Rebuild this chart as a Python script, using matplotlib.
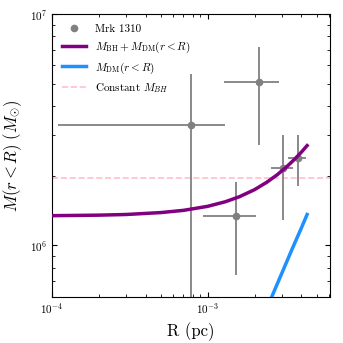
import numpy as np
import matplotlib
matplotlib.use("Agg")
import matplotlib.pyplot as plt
from matplotlib.lines import Line2D

plt.rcParams['font.family'] = ['cmr10', 'DejaVu Serif']
plt.rcParams['mathtext.fontset'] = 'cm'
plt.rcParams['axes.formatter.use_mathtext'] = True

# Mrk 1310 measurements
r_pc = [7.85e-4, 2.14e-3, 1.52e-3, 3.05e-3, 3.78e-3]
r_lo = [1.10e-4, 1.27e-3, 9.37e-4, 2.57e-3, 3.29e-3]
r_hi = [1.29e-3, 2.88e-3, 2.04e-3, 3.54e-3, 4.31e-3]
m_enc = [3.30e6, 5.09e6, 1.34e6, 2.15e6, 2.39e6]
m_lo = [3.0e5, 2.71e6, 7.47e5, 1.29e6, 1.80e6]
m_hi = [5.5e6, 7.18e6, 1.87e6, 2.99e6, 2.99e6]

# model curves
r_model = [1e-4, 2e-4, 3e-4, 5e-4, 7e-4, 1e-3, 1.3e-3, 1.6e-3, 2e-3,
           2.4e-3, 2.8e-3, 3.2e-3, 3.6e-3, 4.0e-3, 4.35e-3]
m_total = [1.344e6, 1.351e6, 1.360e6, 1.386e6, 1.417e6, 1.475e6, 1.544e6,
           1.623e6, 1.741e6, 1.875e6, 2.021e6, 2.180e6, 2.35e6, 2.53e6, 2.70e6]
r_dm = [2.5e-3, 3.0e-3, 3.5e-3, 4.0e-3, 4.35e-3]
m_dm = [5.7e5, 7.6e5, 9.7e5, 1.19e6, 1.36e6]
m_bh = 1.96e6

r_pc = np.array(r_pc)
m_enc = np.array(m_enc)
xerr = [r_pc - np.array(r_lo), np.array(r_hi) - r_pc]
yerr = [m_enc - np.array(m_lo), np.array(m_hi) - m_enc]

fig = plt.figure(figsize=(3.43, 3.43), dpi=100)
ax = fig.add_axes([0.151, 0.135, 0.811, 0.824])

ax.errorbar(r_pc, m_enc, xerr=xerr, yerr=yerr, fmt='o', color='gray',
            ms=4.5, elinewidth=1.3, capsize=0, zorder=2)
l1, = ax.plot(r_model, m_total, color='purple', lw=2.5,
              label=r'$M_{\rm BH} + M_{\rm DM}(r < R)$', zorder=3)
l2, = ax.plot(r_dm, m_dm, color='#1e90ff', lw=2.5,
              label=r'$M_{\rm DM}(r < R)$', zorder=3)
l3 = ax.axhline(m_bh, color='pink', ls='--', lw=1.2,
                label=r'Constant $M_{BH}$', zorder=1)
pt = Line2D([], [], marker='o', ls='none', color='gray', ms=4.5, label='Mrk 1310')

ax.set_xscale('log')
ax.set_yscale('log')
ax.set_xlim(1e-4, 6.1e-3)
ax.set_ylim(6e5, 1e7)
ax.tick_params(which='both', direction='in', top=True, right=True, labelsize=8)
ax.set_xlabel('R (pc)', fontsize=12)
ax.set_ylabel(r'$M(r < R)\ (M_{\odot})$', fontsize=12)
ax.legend(handles=[pt, l1, l2, l3], loc='upper left', frameon=False,
          fontsize=8, handlelength=2.2)

fig.savefig('out.png', dpi=100)
